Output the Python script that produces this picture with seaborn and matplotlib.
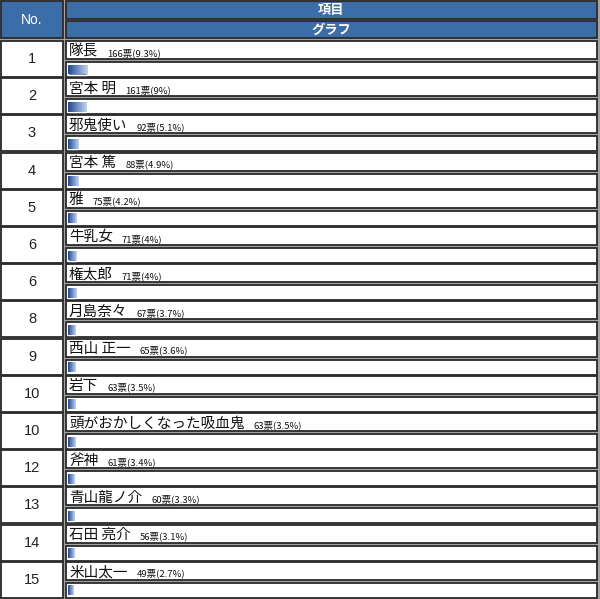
import numpy as np
import pandas as pd
import matplotlib
matplotlib.use("Agg")
import matplotlib.pyplot as plt
from matplotlib.patches import Rectangle
import seaborn as sns

sns.set_style("white")
plt.rcParams['font.family'] = ['Noto Sans CJK JP', 'DejaVu Sans']

ranks = [1, 2, 3, 4, 5, 6, 6, 8, 9, 10, 10, 12, 13, 14, 15]
names = ['隊長', '宮本 明', '邪鬼使い', '宮本 篤', '雅', '牛乳女', '権太郎', '月島奈々',
         '西山 正一', '岩下', '頭がおかしくなった吸血鬼', '斧神', '青山龍ノ介', '石田 亮介', '米山太一']
votes = [166, 161, 92, 88, 75, 71, 71, 67, 65, 63, 63, 61, 60, 56, 49]
pct_labels = ['9.3%', '9%', '5.1%', '4.9%', '4.2%', '4%', '4%', '3.7%', '3.6%', '3.5%',
              '3.5%', '3.4%', '3.3%', '3.1%', '2.7%']
pcts = [float(p.rstrip('%')) for p in pct_labels]

W, H = 600, 599
ROW0, STEP = 41, 37.2
BLUE = '#3b6ea8'
EDGE = '#2a2a2a'

fig = plt.figure(figsize=(W / 100, H / 100), dpi=100, facecolor='#a3a3a3')
bg = fig.add_axes([0, 0, 1, 1])
bg.set_xlim(0, W)
bg.set_ylim(H, 0)
bg.axis('off')


def cell(x, y, w, h, fc):
    bg.add_patch(Rectangle((x, y), w, h, facecolor=fc, edgecolor=EDGE, lw=1.3))


# header
cell(1, 1, 62, 37, BLUE)
cell(66, 1, 531, 18, BLUE)
cell(66, 21, 531, 17, BLUE)
bg.text(32, 19.5, 'No.', color='white', fontsize=10, ha='center', va='center',
        family='Liberation Sans')
bg.text(331, 10, '項目', color='white', fontsize=9.5, fontweight='bold', ha='center', va='center')
bg.text(331, 29.5, 'グラフ', color='white', fontsize=9.5, fontweight='bold', ha='center', va='center')

# body cells and text
name_texts = []
for i, (rk, nm) in enumerate(zip(ranks, names)):
    top = ROW0 + i * STEP
    cell(1, top, 62, 36, 'white')
    cell(66, top, 531, 18, 'white')
    cell(66, top + 21, 531, 15, 'white')
    bg.text(32, top + 18, str(rk), fontsize=10.5, ha='center', va='center',
            family='Liberation Sans', color='#222222')
    t = bg.text(69, top + 10.5, nm, fontsize=10.5, ha='left', va='center', color='#111111')
    name_texts.append(t)

fig.canvas.draw()
renderer = fig.canvas.get_renderer()
for i, t in enumerate(name_texts):
    top = ROW0 + i * STEP
    x1 = t.get_window_extent(renderer).x1
    bg.text(x1 + 9, top + 12, f'{votes[i]}票({pct_labels[i]})', fontsize=6.8,
            ha='left', va='center', color='#111111')

# bars: 2.05 px per percent, category centres aligned to bar cells
px_per_pct = 2.05
bar_c0 = 69.5
ax_w = 100
ax_top = bar_c0 - STEP / 2
ax_h = STEP * len(names)
ax = fig.add_axes([68 / W, (H - ax_top - ax_h) / H, ax_w / W, ax_h / H])
df = pd.DataFrame({'name': names, 'pct': pcts})
sns.barplot(data=df, x='pct', y='name', orient='h', order=names, width=10 / STEP,
            color='#4a6cab', ax=ax)
ax.set_xlim(0, ax_w / px_per_pct)
ax.set_ylim(len(names) - 0.5, -0.5)
ax.axis('off')
ax.patch.set_alpha(0)

grad = np.linspace(0, 1, 64).reshape(1, -1)
cmap = matplotlib.colors.LinearSegmentedColormap.from_list('bar', ['#24468a', '#6f8fc6', '#c4d3ec'])
for p in list(ax.patches):
    x0, y0 = p.get_x(), p.get_y()
    w, h = p.get_width(), p.get_height()
    im = ax.imshow(grad, cmap=cmap, aspect='auto', extent=(x0, x0 + w, y0 + h, y0),
                   interpolation='bilinear', zorder=3)
    im.set_clip_path(p)
ax.set_xlim(0, ax_w / px_per_pct)
ax.set_ylim(len(names) - 0.5, -0.5)

fig.savefig('out.png', dpi=100, facecolor=fig.get_facecolor())
